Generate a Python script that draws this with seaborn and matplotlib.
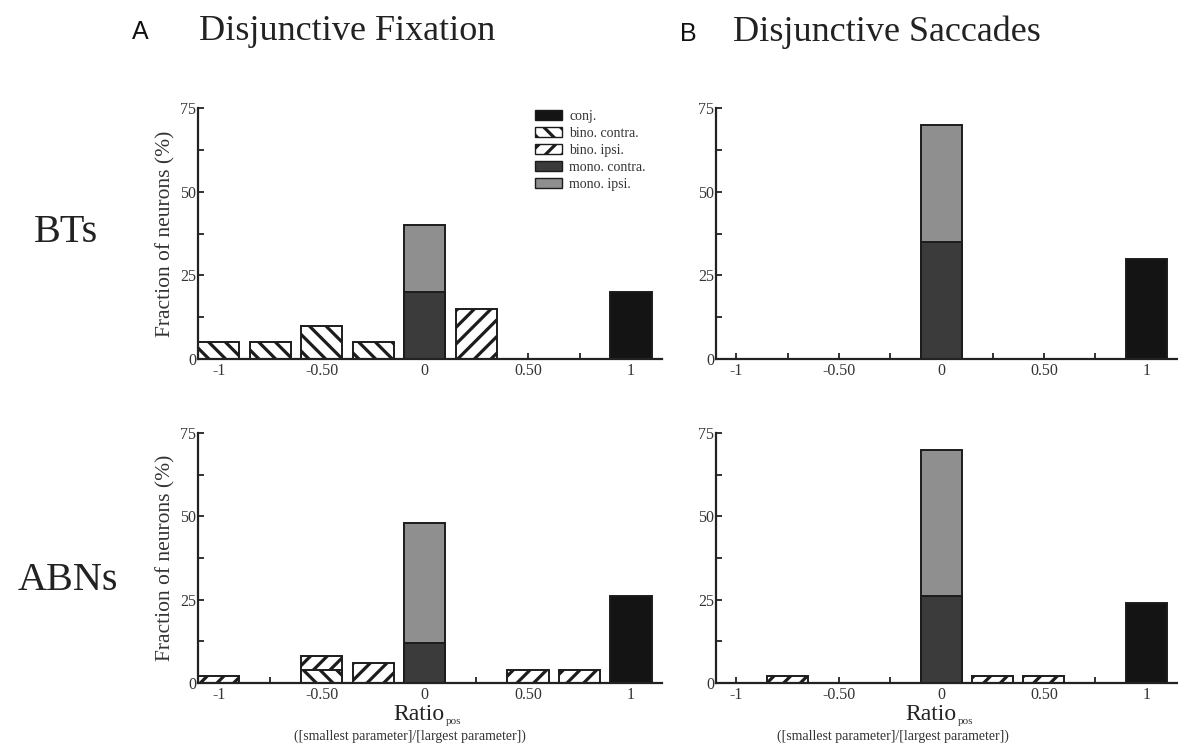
import numpy as np
import matplotlib
matplotlib.use("Agg")
import matplotlib.pyplot as plt
from matplotlib.patches import Patch
from matplotlib.ticker import FixedLocator
import seaborn as sns

# Bin centres of Ratio_pos
ratio_bins = [-1.0, -0.75, -0.5, -0.25, 0.0, 0.25, 0.5, 0.75, 1.0]
tick_values = [-1.0, -0.5, 0.0, 0.5, 1.0]
tick_labels = ["-1", "-0.50", "0", "0.50", "1"]

categories = ["conj.", "bino. contra.", "bino. ipsi.", "mono. contra.", "mono. ipsi."]

# Fraction of neurons (%) per bin, one list per category
# Disjunctive fixation, BTs
fix_bt_conj = [0, 0, 0, 0, 0, 0, 0, 0, 20]
fix_bt_bino_contra = [5, 5, 10, 5, 0, 0, 0, 0, 0]
fix_bt_bino_ipsi = [0, 0, 0, 0, 0, 15, 0, 0, 0]
fix_bt_mono_contra = [0, 0, 0, 0, 20, 0, 0, 0, 0]
fix_bt_mono_ipsi = [0, 0, 0, 0, 20, 0, 0, 0, 0]

# Disjunctive saccades, BTs
sac_bt_conj = [0, 0, 0, 0, 0, 0, 0, 0, 30]
sac_bt_bino_contra = [0, 0, 0, 0, 0, 0, 0, 0, 0]
sac_bt_bino_ipsi = [0, 0, 0, 0, 0, 0, 0, 0, 0]
sac_bt_mono_contra = [0, 0, 0, 0, 35, 0, 0, 0, 0]
sac_bt_mono_ipsi = [0, 0, 0, 0, 35, 0, 0, 0, 0]

# Disjunctive fixation, ABNs
fix_abn_conj = [0, 0, 0, 0, 0, 0, 0, 0, 26]
fix_abn_bino_contra = [0, 0, 4, 0, 0, 0, 0, 0, 0]
fix_abn_bino_ipsi = [2, 0, 4, 6, 0, 0, 4, 4, 0]
fix_abn_mono_contra = [0, 0, 0, 0, 12, 0, 0, 0, 0]
fix_abn_mono_ipsi = [0, 0, 0, 0, 36, 0, 0, 0, 0]

# Disjunctive saccades, ABNs
sac_abn_conj = [0, 0, 0, 0, 0, 0, 0, 0, 24]
sac_abn_bino_contra = [0, 0, 0, 0, 0, 0, 0, 0, 0]
sac_abn_bino_ipsi = [0, 2, 0, 0, 0, 2, 2, 0, 0]
sac_abn_mono_contra = [0, 0, 0, 0, 26, 0, 0, 0, 0]
sac_abn_mono_ipsi = [0, 0, 0, 0, 44, 0, 0, 0, 0]

face_colors = ["#141414", "white", "white", "#3b3b3b", "#8f8f8f"]
hatches = [None, "\\\\", "//", None, None]
edge_col = "#1c1c1c"

sns.set_theme(style="ticks")
plt.rcParams["font.family"] = ["Liberation Serif", "DejaVu Serif"]
plt.rcParams["hatch.linewidth"] = 2.3
plt.rcParams["axes.edgecolor"] = "#222222"

fig = plt.figure(figsize=(11.78, 7.47), dpi=100)
W, H = 1178.0, 747.0


def axes_px(left, right, top, bottom):
    return fig.add_axes([left / W, 1 - bottom / H, (right - left) / W, (bottom - top) / H])


ax_fb = axes_px(198, 662, 108, 359)
ax_sb = axes_px(716, 1177, 108, 359)
ax_fa = axes_px(198, 662, 433, 683)
ax_sa = axes_px(716, 1177, 433, 683)


def draw_panel(ax, series, ylabel=True):
    vals = np.array(series, dtype=float)
    tops = np.cumsum(vals, axis=0)
    # draw upper stack segments first, lower ones on top of them
    for i in range(len(series) - 1, -1, -1):
        heights = np.where(vals[i] > 0, tops[i], 0.0)
        sns.barplot(
            x=ratio_bins, y=heights, native_scale=True, width=0.8,
            color=face_colors[i], saturation=1, edgecolor=edge_col,
            linewidth=1.4, hatch=hatches[i], errorbar=None, ax=ax,
        )
    ax.set_xlim(-1.1, 1.15)
    ax.set_ylim(0, 75)
    ax.xaxis.set_major_locator(FixedLocator(tick_values))
    ax.set_xticklabels(tick_labels)
    ax.xaxis.set_minor_locator(FixedLocator([-0.75, -0.25, 0.25, 0.75]))
    ax.yaxis.set_major_locator(FixedLocator([0, 25, 50, 75]))
    ax.yaxis.set_minor_locator(FixedLocator([12.5, 37.5, 62.5]))
    ax.tick_params(which="both", direction="in", length=4, width=1.3,
                   color="#222222", labelsize=11.5, labelcolor="#333333")
    ax.tick_params(axis="y", pad=1.5)
    ax.tick_params(axis="x", pad=3)
    for s in ("top", "right"):
        ax.spines[s].set_visible(False)
    for s in ("left", "bottom"):
        ax.spines[s].set_linewidth(1.6)
    ax.set_xlabel("")
    ax.set_ylabel("Fraction of neurons (%)" if ylabel else "", fontsize=15.5,
                  color="#333333", labelpad=3)


draw_panel(ax_fb, [fix_bt_conj, fix_bt_bino_contra, fix_bt_bino_ipsi,
                   fix_bt_mono_contra, fix_bt_mono_ipsi])
draw_panel(ax_sb, [sac_bt_conj, sac_bt_bino_contra, sac_bt_bino_ipsi,
                   sac_bt_mono_contra, sac_bt_mono_ipsi], ylabel=False)
draw_panel(ax_fa, [fix_abn_conj, fix_abn_bino_contra, fix_abn_bino_ipsi,
                   fix_abn_mono_contra, fix_abn_mono_ipsi])
draw_panel(ax_sa, [sac_abn_conj, sac_abn_bino_contra, sac_abn_bino_ipsi,
                   sac_abn_mono_contra, sac_abn_mono_ipsi], ylabel=False)

# Legend
handles = [Patch(facecolor=face_colors[i], edgecolor=edge_col, hatch=hatches[i],
                 linewidth=1.0, label=categories[i]) for i in range(len(categories))]
fig.legend(handles=handles, loc="upper left", bbox_to_anchor=(535 / W, 1 - 110 / H),
           frameon=False, fontsize=10, handlelength=1.95, handleheight=0.7,
           labelspacing=0.28, handletextpad=0.5, borderpad=0, borderaxespad=0,
           labelcolor="#333333")

# Column titles and panel letters
fig.text(140 / W, 1 - 32 / H, "A", fontsize=18, family="Liberation Sans",
         ha="center", va="center", color="#111111")
fig.text(347 / W, 1 - 32 / H, "Disjunctive Fixation", fontsize=26,
         ha="center", va="center", color="#222222")
fig.text(688 / W, 1 - 34 / H, "B", fontsize=18, family="Liberation Sans",
         ha="center", va="center", color="#111111")
fig.text(887 / W, 1 - 32 / H, "Disjunctive Saccades", fontsize=26,
         ha="center", va="center", color="#222222")

# Row labels
fig.text(66 / W, 1 - 232 / H, "BTs", fontsize=29, ha="center", va="center", color="#222222")
fig.text(68 / W, 1 - 580 / H, "ABNs", fontsize=29, ha="center", va="center", color="#222222")

# X-axis labels: "Ratio" with a small "pos" subscript, and the explanatory line
for x_join, cx_sub in ((444, 410), (956, 893)):
    fig.text(x_join / W, 1 - 720 / H, "Ratio", fontsize=17,
             ha="right", va="baseline", color="#222222")
    fig.text((x_join + 2) / W, 1 - 724 / H, "pos", fontsize=8,
             ha="left", va="baseline", color="#333333")
    fig.text(cx_sub / W, 1 - 736 / H, "([smallest parameter]/[largest parameter])",
             fontsize=10, ha="center", va="center", color="#333333")

fig.savefig("out.png", dpi=100, facecolor="white")
